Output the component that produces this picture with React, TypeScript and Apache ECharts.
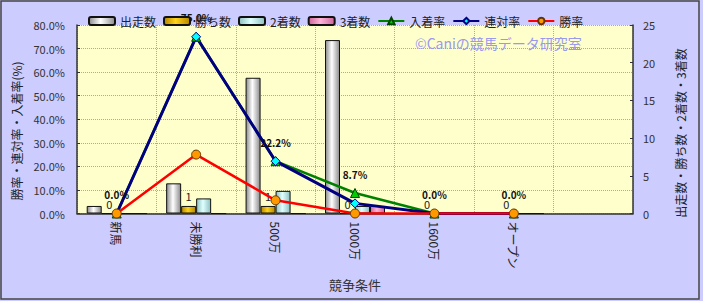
import React, { useEffect, useRef } from "react";
import * as echarts from "echarts";

const categories = ["新馬", "未勝利", "500万", "1000万", "1600万", "オープン", ""];
const starts = [1, 4, 18, 23, 0, 0];
const wins = [0, 1, 1, 0, 0, 0];
const seconds = [0, 2, 3, 1, 0, 0];
const thirds = [0, 0, 0, 1, 0, 0];
const placeRate = [0, 75, 22.2, 8.7, 0, 0];
const rentaiRate = [0, 75, 22.2, 4.3, 0, 0];
const winRate = [0, 25, 5.6, 0, 0, 0];
const leftTicks = { min: 0, max: 80, interval: 10 };
const rightTicks = { min: 0, max: 25, interval: 5 };

const FONT = '"Noto Sans CJK JP", "Noto Sans", sans-serif';

function grad(edge: string, mid: string) {
  return new echarts.graphic.LinearGradient(0, 0, 1, 0, [
    { offset: 0, color: edge },
    { offset: 0.45, color: mid },
    { offset: 1, color: edge },
  ]);
}

export default function App() {
  const ref = useRef<HTMLDivElement>(null);
  useEffect(() => {
    if (!ref.current) return;
    const chart = echarts.init(ref.current, undefined, { renderer: "svg" });
    const barBase = {
      type: "bar",
      yAxisIndex: 1,
      barWidth: 15,
      barGap: "0%",
    };
    const lineBase = {
      type: "line",
      yAxisIndex: 0,
      symbolSize: 9,
    };
    chart.setOption({
      animation: false,
      backgroundColor: "#ccccff",
      textStyle: { fontFamily: FONT },
      legend: {
        left: 83,
        top: 10,
        itemWidth: 26,
        itemHeight: 8,
        itemGap: 7,
        textStyle: { fontSize: 12, color: "#222", fontFamily: FONT },
      },
      grid: { left: 77, right: 70, top: 25, bottom: 87.5 },
      xAxis: {
        type: "category",
        data: categories,
        name: "競争条件",
        nameLocation: "middle",
        nameGap: 64,
        nameTextStyle: { fontSize: 13, color: "#333", fontFamily: FONT },
        axisLine: { lineStyle: { color: "#333", width: 1.5 } },
        axisTick: { show: false },
        axisLabel: { rotate: -90, fontSize: 12, color: "#222", margin: 8, fontFamily: FONT },
        splitLine: { show: true, lineStyle: { color: "#aaaaaa", type: "dotted", width: 1 } },
      },
      yAxis: [
        {
          type: "value",
          min: leftTicks.min,
          max: leftTicks.max,
          interval: leftTicks.interval,
          axisLine: { show: true, lineStyle: { color: "#333", width: 1.5 } },
          axisTick: { show: true, inside: true, length: 3, lineStyle: { color: "#333" } },
          axisLabel: {
            fontSize: 11,
            color: "#333",
            margin: 12,
            formatter: (v: number) => v.toFixed(1) + "%",
          },
          splitLine: { show: true, lineStyle: { color: "#aaaaaa", type: "dotted", width: 1 } },
        },
        {
          type: "value",
          min: rightTicks.min,
          max: rightTicks.max,
          interval: rightTicks.interval,
          position: "right",
          axisLine: { show: true, lineStyle: { color: "#333", width: 1.5 } },
          axisTick: { show: true, inside: true, length: 3, lineStyle: { color: "#333" } },
          axisLabel: { fontSize: 11, color: "#333", margin: 10 },
          splitLine: { show: false },
        },
      ],
      graphic: [
        {
          type: "rect",
          shape: { x: 1, y: 1, width: 698, height: 298 },
          style: { fill: "none", stroke: "#444", lineWidth: 1.5 },
          silent: true,
          z: 100,
        },
        {
          type: "rect",
          shape: { x: 77, y: 25, width: 556, height: 188.5 },
          style: { fill: "#ffffcc" },
          silent: true,
          z: -10,
        },
        {
          type: "text",
          x: 415,
          y: 43,
          style: {
            text: "©Caniの競馬データ研究室",
            fontSize: 14,
            fill: "#9999ee",
            fontFamily: FONT,
            verticalAlign: "middle",
          },
          z: 1,
        },
        {
          type: "text",
          x: 16,
          y: 131,
          rotation: Math.PI / 2,
          style: {
            text: "勝率・連対率・入着率(%)",
            fontSize: 12,
            fill: "#222",
            fontFamily: FONT,
            align: "center",
            verticalAlign: "middle",
          },
        },
        {
          type: "text",
          x: 680,
          y: 133,
          rotation: Math.PI / 2,
          style: {
            text: "出走数・勝ち数・2着数・3着数",
            fontSize: 12,
            fill: "#222",
            fontFamily: FONT,
            align: "center",
            verticalAlign: "middle",
          },
        },
      ],
      series: [
        {
          ...barBase,
          name: "出走数",
          data: starts,
          itemStyle: { color: grad("#8c8c8c", "#ffffff"), borderColor: "#111", borderWidth: 1 },
        },
        {
          ...barBase,
          name: "勝ち数",
          data: wins,
          itemStyle: { color: grad("#b38600", "#ffd21a"), borderColor: "#111", borderWidth: 1 },
          label: { show: true, position: "top", fontSize: 11, color: "#222", distance: 4 },
        },
        {
          ...barBase,
          name: "2着数",
          data: seconds,
          itemStyle: { color: grad("#8fbfbf", "#e0ffff"), borderColor: "#111", borderWidth: 1 },
        },
        {
          ...barBase,
          name: "3着数",
          data: thirds,
          itemStyle: { color: grad("#cc6699", "#ffb3d9"), borderColor: "#111", borderWidth: 1 },
        },
        {
          ...lineBase,
          name: "入着率",
          data: placeRate,
          symbol: "triangle",
          lineStyle: { color: "#008000", width: 2.5 },
          itemStyle: { color: "#00cc00", borderColor: "#004400", borderWidth: 1 },
          label: {
            show: true,
            position: "top",
            distance: 9,
            fontSize: 10,
            fontWeight: "bold",
            color: "#111",
            formatter: (p: any) => Number(p.value).toFixed(1) + "%",
          },
        },
        {
          ...lineBase,
          name: "連対率",
          data: rentaiRate,
          symbol: "diamond",
          lineStyle: { color: "#000080", width: 3 },
          itemStyle: { color: "#00ffff", borderColor: "#000080", borderWidth: 1 },
        },
        {
          ...lineBase,
          name: "勝率",
          data: winRate,
          symbol: "circle",
          lineStyle: { color: "#ff0000", width: 2.5 },
          itemStyle: { color: "#ff9900", borderColor: "#663300", borderWidth: 1 },
        },
      ],
    });
    return () => chart.dispose();
  }, []);
  return (
    <div
      ref={ref}
      style={{ position: "fixed", left: 0, top: 0, width: 703, height: 301 }}
    />
  );
}
